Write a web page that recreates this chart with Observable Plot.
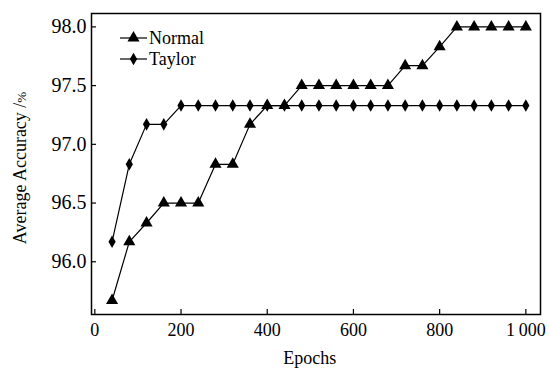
<!DOCTYPE html>
<html><head><meta charset="utf-8">
<script src="https://cdn.jsdelivr.net/npm/d3@7"></script>
<script src="https://cdn.jsdelivr.net/npm/@observablehq/plot@0.6"></script>
<style>
body{margin:0;background:#fff;font-family:"Liberation Serif"}
#chart{width:549px;height:370px;font-family:"Liberation Serif"}
#chart svg, #chart svg text, #chart svg tspan{font-family:"Liberation Serif" !important}
</style>
</head><body><div id="chart"></div>
<script>
const epochs = [40, 80, 120, 160, 200, 240, 280, 320, 360, 400, 440, 480, 520, 560, 600, 640, 680, 720, 760, 800, 840, 880, 920, 960, 1000];
const normalAcc = [95.67, 96.17, 96.33, 96.5, 96.5, 96.5, 96.83, 96.83, 97.17, 97.33, 97.33, 97.5, 97.5, 97.5, 97.5, 97.5, 97.5, 97.67, 97.67, 97.83, 98.0, 98.0, 98.0, 98.0, 98.0];
const taylorAcc = [96.17, 96.83, 97.17, 97.17, 97.33, 97.33, 97.33, 97.33, 97.33, 97.33, 97.33, 97.33, 97.33, 97.33, 97.33, 97.33, 97.33, 97.33, 97.33, 97.33, 97.33, 97.33, 97.33, 97.33, 97.33];
const xTicks = [0, 200, 400, 600, 800, 1000];
const yTicks = [96.0, 96.5, 97.0, 97.5, 98.0];
const seriesNames = ["Normal", "Taylor"];
const xLabel = "Epochs";
const yLabelMain = "Average Accuracy /";
const yLabelUnit = "%";

const normalRows = epochs.map((e, i) => ({epoch: e, acc: normalAcc[i]}));
const taylorRows = epochs.map((e, i) => ({epoch: e, acc: taylorAcc[i]}));

const fam = "Liberation Serif";
const chart = Plot.plot({
  width: 549, height: 370,
  marginLeft: 91, marginRight: 9, marginTop: 13, marginBottom: 56,
  style: {fontFamily: fam, background: "#fff", color: "#000"},
  x: {domain: [-7.7, 1034]},
  y: {domain: [95.551, 98.114]},
  marks: [
    Plot.axisX(xTicks, {tickSize: 0, tickPadding: 9, fontSize: 18, label: null,
      tickFormat: d => d >= 1000 ? d3.format(",")(d).replace(",", "\u2009") : String(d)}),
    Plot.axisY(yTicks, {tickSize: 0, tickPadding: 5, fontSize: 20, label: null, tickFormat: d3.format(".1f")}),
    Plot.tickX(xTicks, {x: d => d, insetTop: 296, stroke: "#000", strokeWidth: 1.2}),
    Plot.tickY(yTicks, {y: d => d, insetRight: 444, stroke: "#000", strokeWidth: 1.2}),
    Plot.line(normalRows, {x: "epoch", y: "acc", stroke: "#000", strokeWidth: 1.2}),
    Plot.line(taylorRows, {x: "epoch", y: "acc", stroke: "#000", strokeWidth: 1.2}),
    Plot.dot(normalRows, {x: "epoch", y: "acc", symbol: "triangle", r: 4.5, fill: "#000", stroke: "none"}),
    Plot.dot(taylorRows, {x: "epoch", y: "acc", symbol: "diamond", r: 3.8, fill: "#000", stroke: "none"}),
    Plot.frame({stroke: "#000", strokeWidth: 1.5})
  ]
});
chart.setAttribute("font-family", fam);
document.getElementById("chart").appendChild(chart);
d3.select(chart).selectAll("g").attr("font-family", fam);
d3.select(chart).selectAll("text").attr("font-family", fam);

const svg = d3.select(chart);
const xs = chart.scale("x");
// x label
svg.append("text").attr("x", xs.apply(500)).attr("y", 364)
  .attr("text-anchor", "middle").attr("font-size", 18).attr("font-family", fam).attr("fill", "#000")
  .text(xLabel);
// y label
const yl = svg.append("text").attr("transform", "translate(26,168) rotate(-90)")
  .attr("text-anchor", "middle").attr("font-size", 18).attr("font-family", fam).attr("fill", "#000");
yl.append("tspan").text(yLabelMain);
yl.append("tspan").attr("font-size", 13).text(yLabelUnit);
// legend
const legendSymbols = [d3.symbolTriangle, d3.symbolDiamond];
const legendR = [4.5, 3.8];
const legendY = [38, 59];
seriesNames.forEach((name, i) => {
  const g = svg.append("g");
  g.append("line").attr("x1", 120).attr("x2", 147).attr("y1", legendY[i]).attr("y2", legendY[i])
    .attr("stroke", "#000").attr("stroke-width", 1.2);
  g.append("path").attr("transform", `translate(133.5,${legendY[i]})`)
    .attr("d", d3.symbol(legendSymbols[i], Math.PI * legendR[i] * legendR[i])()).attr("fill", "#000");
  g.append("text").attr("x", 149).attr("y", legendY[i] + 6).attr("text-anchor", "start")
    .attr("font-size", 18).attr("font-family", fam).attr("fill", "#000").text(name);
});
</script>
</body></html>
